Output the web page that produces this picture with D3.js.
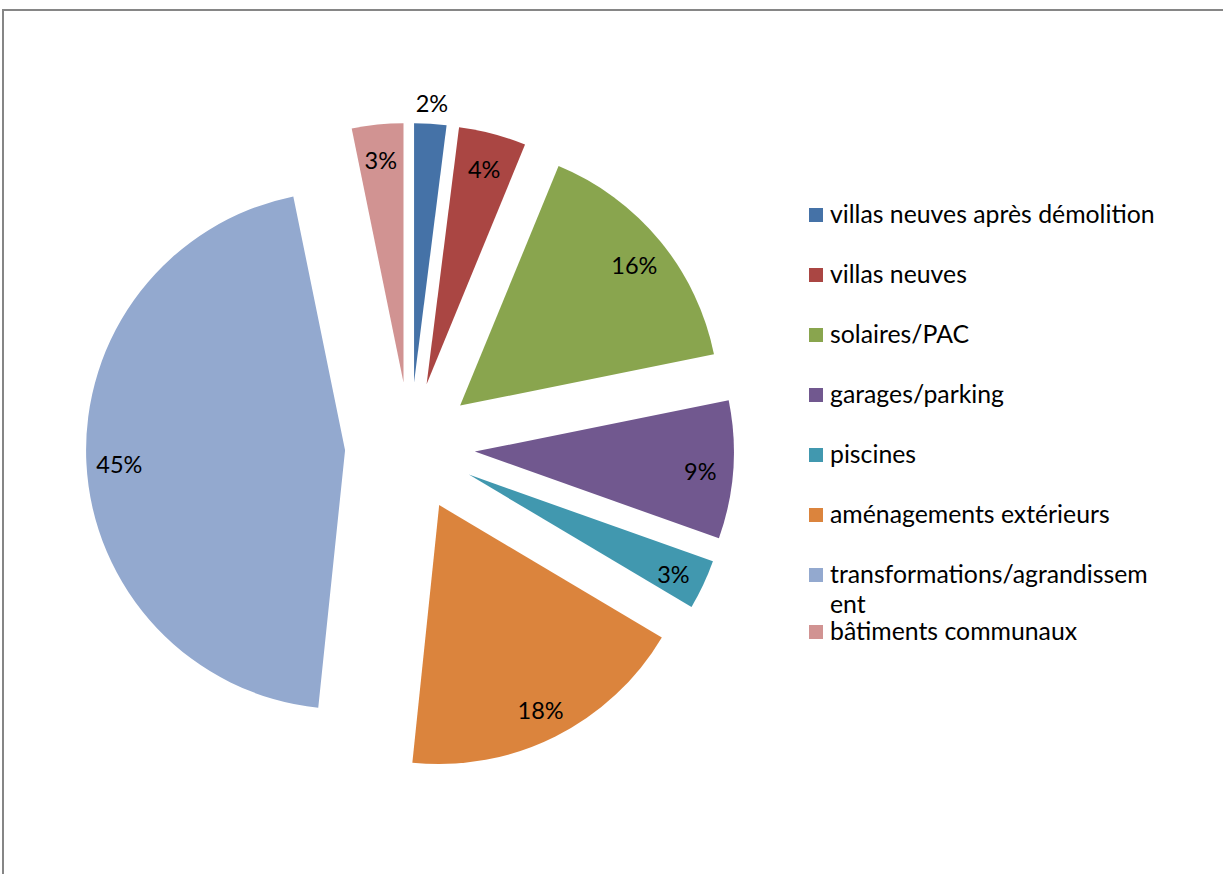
<!DOCTYPE html>
<html>
<head>
<meta charset="utf-8">
<script src="https://cdn.jsdelivr.net/npm/d3@7"></script>
<style>
  html, body { margin: 0; padding: 0; background: #fff; }
  svg { display: block; }
  text { font-family: Lato, "Open Sans", sans-serif; fill: #000; }
</style>
</head>
<body>
<svg id="chart" width="1223" height="874"></svg>
<script>
// ---- data ----
const categories = [
  "villas neuves après démolition",
  "villas neuves",
  "solaires/PAC",
  "garages/parking",
  "piscines",
  "aménagements extérieurs",
  "transformations/agrandissement",
  "bâtiments communaux"
];
const values = [2.0, 4.2, 15.6, 8.6, 3.1, 18.1, 45.1, 3.2];
const labels = ["2%", "4%", "16%", "9%", "3%", "18%", "45%", "3%"];
const colors = ["#4572A7", "#AA4643", "#89A54E", "#71588F", "#4198AF", "#DB843D", "#93A9CF", "#D19392"];
const legendLines = [
  ["villas neuves après démolition"],
  ["villas neuves"],
  ["solaires/PAC"],
  ["garages/parking"],
  ["piscines"],
  ["aménagements extérieurs"],
  ["transformations/agrandissem", "ent"],
  ["bâtiments communaux"]
];

// ---- layout ----
const W = 1223, H = 874;
const cx = 410, cy = 447, R = 259, explode = 65;
const labelR = 226, outsideR = R + 24;

const svg = d3.select("#chart");

// frame
svg.append("rect")
  .attr("x", 3).attr("y", 10)
  .attr("width", W + 20).attr("height", H + 20)
  .attr("fill", "#fff")
  .attr("stroke", "#868686").attr("stroke-width", 2);

const pie = d3.pie().sort(null).value(d => d.v);
const arc = d3.arc().innerRadius(0).outerRadius(R);

const data = values.map((v, i) => ({ v, cat: categories[i], label: labels[i], color: colors[i] }));
const arcs = pie(data);

const dir = a => [Math.sin(a), -Math.cos(a)];

const g = svg.append("g").attr("transform", `translate(${cx},${cy})`);

const slices = g.selectAll("g.slice").data(arcs).enter().append("g")
  .attr("class", "slice")
  .attr("transform", d => {
    const m = (d.startAngle + d.endAngle) / 2;
    const [dx, dy] = dir(m);
    return `translate(${dx * explode},${dy * explode})`;
  });

slices.append("path")
  .attr("d", arc)
  .attr("fill", d => d.data.color);

slices.append("text")
  .attr("transform", d => {
    const m = (d.startAngle + d.endAngle) / 2;
    const [dx, dy] = dir(m);
    const r = (d.endAngle - d.startAngle) < 0.13 ? outsideR : labelR;
    return `translate(${dx * r},${dy * r + 3})`;
  })
  .attr("text-anchor", "middle")
  .attr("dominant-baseline", "central")
  .attr("font-size", 23.5)
  .text(d => d.data.label);

// legend
const leg = svg.append("g");
const legX = 809, legY0 = 215, legStep = 60;
legendLines.forEach((lines, i) => {
  const y = legY0 + i * legStep - (i === 7 ? 3 : 0);
  leg.append("rect")
    .attr("x", legX).attr("y", y - 7)
    .attr("width", 14).attr("height", 14)
    .attr("fill", colors[i]);
  const t = leg.append("text")
    .attr("x", legX + 21).attr("y", y + 8)
    .attr("font-size", 24.8);
  lines.forEach((ln, j) => {
    t.append("tspan").attr("x", legX + 21).attr("dy", j === 0 ? 0 : 30).text(ln);
  });
});
</script>
</body>
</html>
